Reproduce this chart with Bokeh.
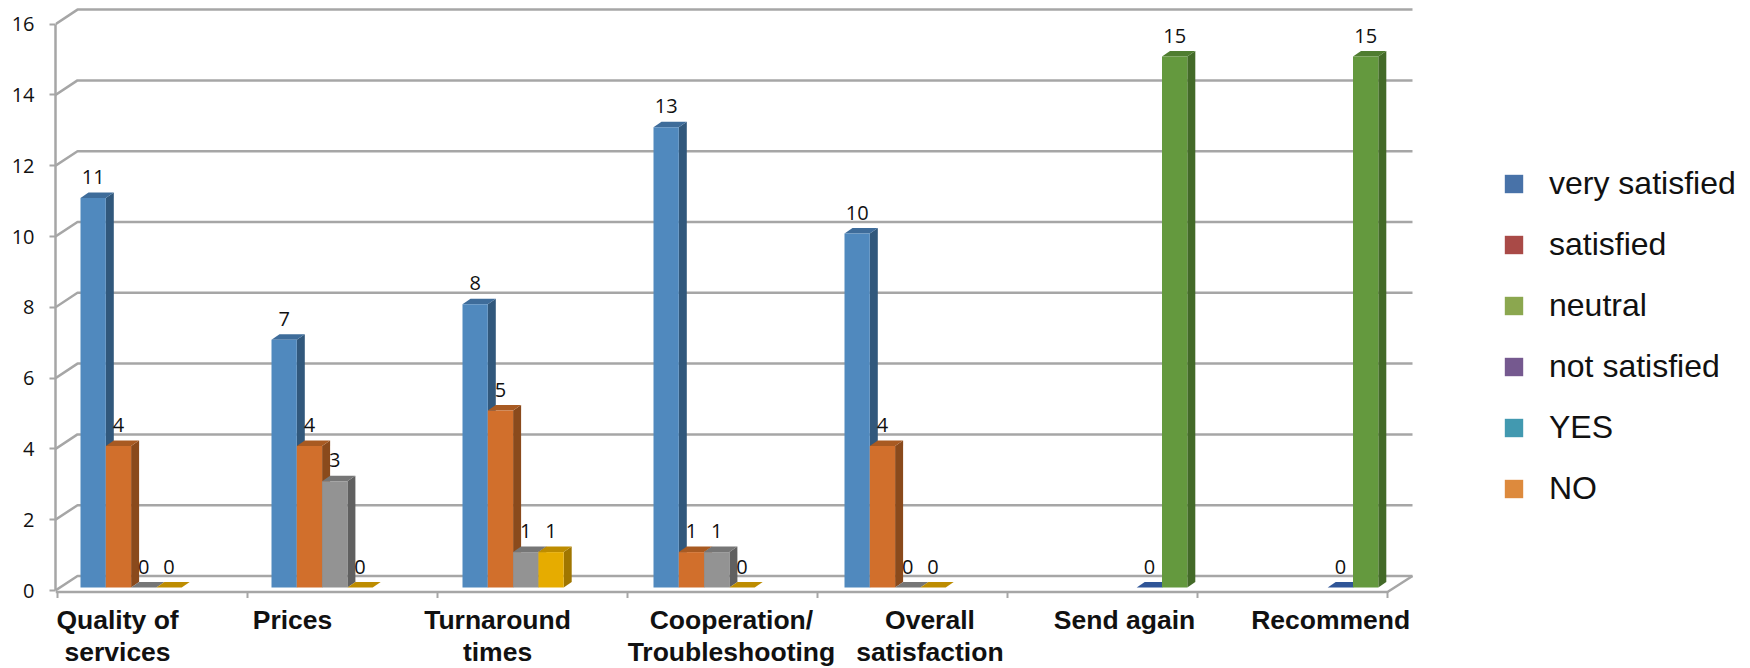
from bokeh.plotting import figure
from bokeh.models import Range1d, FixedTicker, LinearAxis, Legend, LegendItem
from bokeh.core.properties import value
from bokeh.embed import file_html
from bokeh.resources import INLINE

nan = float("nan")

# ---- data ----
categories = ["Quality of\nservices", "Prices", "Turnaround\ntimes", "Cooperation/\nTroubleshooting",
              "Overall\nsatisfaction", "Send again", "Recommend"]
series_1 = [11, 7, 8, 13, 10, nan, nan]
series_2 = [4, 4, 5, 1, 4, nan, nan]
series_3 = [0, 3, 1, 1, 0, nan, nan]
series_4 = [0, 0, 1, 0, 0, nan, nan]
series_5 = [nan, nan, nan, nan, nan, 0, 0]
series_6 = [nan, nan, nan, nan, nan, 15, 15]
y_ticks = [0, 2, 4, 6, 8, 10, 12, 14, 16]
legend_names = ["very satisfied", "satisfied", "neutral", "not satisfied", "YES", "NO"]
legend_colors = ["#4872a8", "#a94a47", "#8ba74f", "#75598f", "#4299b0", "#dd8a3d"]

# ---- style: (front, side, top) ----
faces = [("#5089be", "#31587c", "#3e6c9a"),
         ("#d16f2c", "#8a4a1c", "#a85a22"),
         ("#939393", "#606060", "#767676"),
         ("#e6ac00", "#a07600", "#bd8c00"),
         ("#2f5597", "#203a66", "#2f5597"),
         ("#64993e", "#436a28", "#4f7d30")]
all_series = [series_1, series_2, series_3, series_4, series_5, series_6]

# ---- layout ----
W, H = 1750, 668
LEFT = 55
UX, UY = 190.0, 35.4
Y0 = 590
y_bottom = (Y0 - H) / UY
y_top = Y0 / UY
x_end = (W - LEFT) / UX

GROUP_STEP = 191 / UX
FIRST = 25 / UX
BW = 25.3 / UX
BASE = 3 / UY
DX, DY = 8 / UX, 5.5 / UY
X_SHIFT = 2 / UX
WALL_LX, WALL_RX, WALL_Y = 22 / UX, 25 / UX, 14.5 / UY
LINE = "#a6a6a6"
n_groups = len(categories)

p = figure(width=W, height=H, output_backend="svg", toolbar_location=None,
           x_range=Range1d(0, x_end), y_range=Range1d(y_bottom, y_top),
           x_axis_type=None, y_axis_type=None,
           min_border_left=LEFT, min_border_right=0, min_border_top=0, min_border_bottom=0,
           background_fill_color="white", border_fill_color="white", outline_line_color=None)
p.xgrid.visible = False
p.ygrid.visible = False

# walls and floor
floor_y = -1.5 / UY
right_x = n_groups + X_SHIFT
wx0 = [[0, WALL_LX, right_x + WALL_RX] for _ in y_ticks]
wy0 = [[v, v + WALL_Y, v + WALL_Y] for v in y_ticks]
p.multi_line(wx0, wy0, line_color=LINE, line_width=2.5)
p.line([0, right_x, right_x + WALL_RX], [floor_y, floor_y, WALL_Y], line_color=LINE, line_width=2.5)
ticks_x = [k + X_SHIFT for k in range(n_groups + 1)]
p.segment(x0=ticks_x, x1=ticks_x, y0=[floor_y] * len(ticks_x), y1=[floor_y - 6 / UY] * len(ticks_x),
          line_color=LINE, line_width=2)

# bars
for si, (vals, (front, side, top)) in enumerate(zip(all_series, faces)):
    left, right, tops, xc, sx, sy, tx, ty, lab = [], [], [], [], [], [], [], [], []
    for g, v in enumerate(vals):
        if v != v:
            continue
        x0 = g * GROUP_STEP + FIRST + si * BW
        x1 = x0 + BW
        y1 = v + BASE
        left.append(x0); right.append(x1); tops.append(y1)
        xc.append((x0 + x1) / 2); lab.append(str(v))
        sx.append([x1, x1 + DX, x1 + DX, x1])
        sy.append([BASE, BASE + DY, y1 + DY, y1])
        tx.append([x0, x0 + DX, x1 + DX, x1])
        ty.append([y1, y1 + DY, y1 + DY, y1])
    p.patches(sx, sy, fill_color=side, line_color=None)
    p.patches(tx, ty, fill_color=top, line_color=None)
    p.quad(left=left, right=right, bottom=[BASE] * len(left), top=tops, fill_color=front, line_color=None)
    p.text(x=xc, y=tops, text=lab, text_font=value("Open Sans"), text_font_size="20px",
           text_align="center", text_baseline="middle", text_color="#111111", y_offset=-21, x_offset=0)

# value axis
yaxis = LinearAxis(ticker=FixedTicker(ticks=y_ticks), bounds=(0, 16))
yaxis.axis_line_color = LINE
yaxis.axis_line_width = 2.5
yaxis.major_tick_line_color = LINE
yaxis.major_tick_line_width = 2
yaxis.major_tick_in = 0
yaxis.major_tick_out = 6
yaxis.minor_tick_line_color = None
yaxis.major_label_standoff = 15
yaxis.major_label_text_font = "Open Sans"
yaxis.major_label_text_font_size = "20px"
yaxis.major_label_text_color = "#111111"
p.add_layout(yaxis, "left")

# category labels
label_pos = [0.316 + X_SHIFT, 1.237 + X_SHIFT, 2.316 + X_SHIFT, 3.547 + X_SHIFT,
             4.592 + X_SHIFT, 5.616 + X_SHIFT, 6.701 + X_SHIFT]
p.text(x=label_pos, y=[floor_y] * len(label_pos), text=categories, text_font=value("Liberation Sans"),
       text_font_style="bold", text_font_size="26.5px", text_line_height=1.08,
       text_align="center", text_baseline="top", text_color="#111111", y_offset=13)

# legend
items = []
for name, col in zip(legend_names, legend_colors):
    r = p.quad(left=[nan], right=[nan], bottom=[nan], top=[nan], fill_color=col, line_color=None)
    items.append(LegendItem(label=name, renderers=[r]))
leg = Legend(items=items, location=(1447, 161), orientation="vertical",
             glyph_width=23, glyph_height=23, label_height=23, label_standoff=24,
             spacing=24, padding=0, margin=0, border_line_color=None, background_fill_alpha=0,
             label_text_font="Liberation Sans", label_text_font_size="32px", label_text_color="#111111")
p.add_layout(leg, "center")

open("out.html", "w").write(file_html(p, INLINE))
